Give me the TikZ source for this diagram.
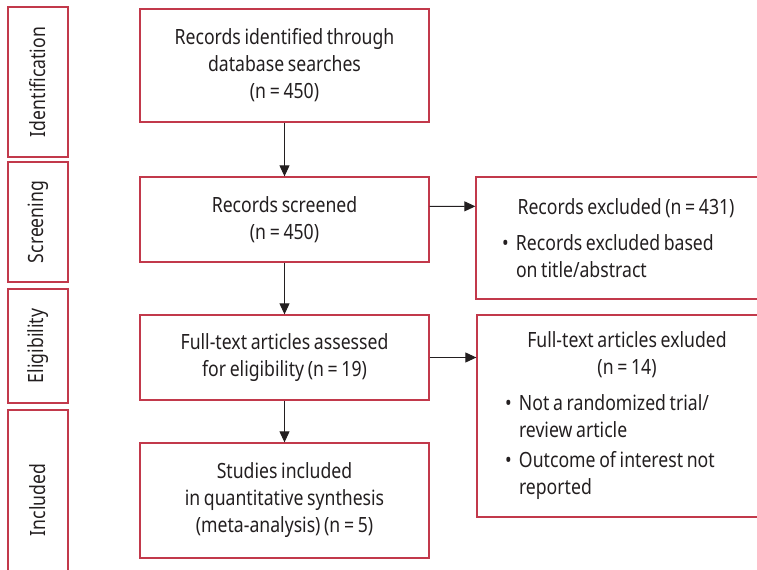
\documentclass[tikz,border=0pt]{standalone}
\usepackage{fontspec}
\setmainfont{Noto Sans}[FakeStretch=0.84, WordSpace=0.8]
\usetikzlibrary{arrows.meta}
\definecolor{boxred}{RGB}{194,57,75}
\definecolor{inkgray}{RGB}{35,31,32}
\newcommand{\bull}{\makebox[14bp][l]{\textbullet}}
\newcommand{\hang}{\hspace*{14bp}}
\begin{document}
\begin{tikzpicture}[x=1bp,y=-1bp,
    font=\fontsize{21bp}{27bp}\selectfont, text=inkgray,
    box/.style={draw=boxred, line width=1.3bp, inner sep=0pt, align=center,
        minimum width=289bp},
    stage/.style={draw=boxred, line width=1.3bp, inner sep=0pt, rotate=90,
        minimum height=60bp},
    exclbox/.style={draw=boxred, line width=1.3bp, inner sep=0pt,
        minimum width=300bp, align=left},
    arr/.style={draw=inkgray, line width=1bp, -{Triangle[length=11bp,width=10bp]}}]

    \useasboundingbox (0,0) rectangle (757,570);

    % stages
    \node[stage, minimum width=150bp] (sid) at (38,82) {Identification};
    \node[stage, minimum width=120bp] (sscr) at (38,222) {Screening};
    \node[stage, minimum width=114bp] (selig) at (38,346) {Eligibility};
    \node[stage, minimum width=180bp] (sinc) at (38,500) {Included};

    % main column
    \node[box, minimum height=113bp] (ident) at (284.5,65.5)
        {Records identified through\\database searches\\(n = 450)};
    \node[box, minimum height=85bp] (screened) at (284.5,219.5)
        {Records screened\\(n = 450)};
    \node[box, minimum height=85bp] (assessed) at (284.5,357.5)
        {Full-text articles assessed\\for eligibility (n = 19)};
    \node[box, minimum height=115bp] (included) at (284.5,500.5)
        {Studies included\\in quantitative synthesis\\(meta-analysis) (n = 5)};

    % exclusions
    \node[exclbox, minimum height=122bp] (excl1) at (626,238)
        {\makebox[248bp][c]{Records excluded (n = 431)}\\[9bp]
         \bull Records excluded based\\
         \hang on title/abstract};
    \node[exclbox, minimum height=202bp] (excl2) at (627,416)
        {\makebox[244bp][c]{Full-text articles exluded}\\
         \makebox[244bp][c]{(n = 14)}\\[9bp]
         \bull Not a randomized trial/\\
         \hang review article\\[3bp]
         \bull Outcome of interest not\\
         \hang reported};

    \draw[arr] (ident) -- (screened);
    \draw[arr] (screened) -- (assessed);
    \draw[arr] (assessed) -- (included);
    \draw[arr] ([yshift=-30bp]screened.north east) -- ([yshift=-30bp]excl1.north west);
    \draw[arr] (assessed.east) -- (assessed.east -| excl2.west);

\end{tikzpicture}
\end{document}
